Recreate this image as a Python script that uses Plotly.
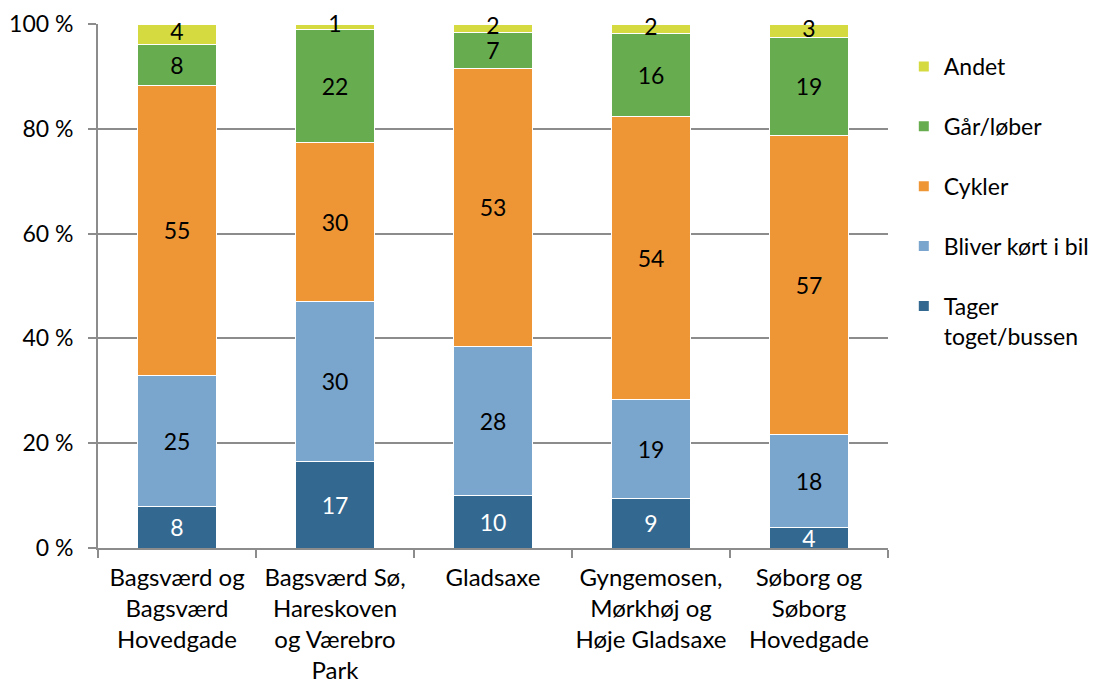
import plotly.graph_objects as go

categories = [
    "Bagsværd og<br>Bagsværd<br>Hovedgade",
    "Bagsværd Sø,<br>Hareskoven<br>og Værebro<br>Park",
    "Gladsaxe",
    "Gyngemosen,<br>Mørkhøj og<br>Høje Gladsaxe",
    "Søborg og<br>Søborg<br>Hovedgade",
]
tager = [8.0, 16.6, 10.1, 9.4, 4.0]
bliver = [25.0, 30.5, 28.3, 19.0, 17.6]
cykler = [55.2, 30.2, 53.2, 53.9, 57.2]
gaar = [7.8, 21.7, 6.7, 15.8, 18.6]
andet = [4.0, 1.0, 1.7, 1.9, 2.6]
yticks = [0, 20, 40, 60, 80, 100]

series = [
    ("Tager<br>toget/bussen", tager, "rgb(51,105,145)", "white"),
    ("Bliver kørt i bil", bliver, "rgb(122,166,206)", "black"),
    ("Cykler", cykler, "rgb(238,150,54)", "black"),
    ("Går/løber", gaar, "rgb(103,173,80)", "black"),
    ("Andet", andet, "rgb(212,218,64)", "black"),
]

FONT = "Lato"
FS = 23
fig = go.Figure()
for i, (name, vals, color, tcol) in enumerate(series):
    small = name == "Andet"
    fig.add_trace(go.Bar(
        x=categories, y=vals, name=name,
        marker=dict(color=color, line=dict(color="white", width=1)),
        text=None if small else [f"{v:.0f}" for v in vals],
        textposition="none" if small else "inside",
        insidetextanchor="middle", textangle=0,
        textfont=dict(color=tcol, size=FS, family=FONT),
        constraintext="none", cliponaxis=False,
        legendgroup=f"g{i}", legendrank=len(series) - i,
        hoverinfo="skip",
    ))

# labels for the thin "Andet" segments, centred on each segment
base = [t + b + c + g for t, b, c, g in zip(tager, bliver, cykler, gaar)]
fig.add_trace(go.Scatter(
    x=categories, y=[b + a / 2 for b, a in zip(base, andet)],
    mode="text", text=[f"{a:.0f}" for a in andet],
    textfont=dict(color="black", size=FS, family=FONT),
    textposition="middle center", showlegend=False, hoverinfo="skip",
    cliponaxis=False,
))

fig.update_layout(
    barmode="stack", bargap=0.5,
    width=1094, height=681,
    margin=dict(l=90, r=214, t=16, b=141, autoexpand=False),
    plot_bgcolor="white", paper_bgcolor="white",
    font=dict(family=FONT, size=FS, color="black"),
    uniformtext=dict(minsize=FS, mode="show"),
    legend=dict(
        x=1.02, y=0.96, xanchor="left", yanchor="top",
        traceorder="grouped", tracegroupgap=27, valign="top",
        font=dict(size=FS, family=FONT),
        itemsizing="constant",
    ),
    xaxis=dict(
        showline=True, linecolor="#8c8c8c", linewidth=2,
        ticks="outside", tickson="boundaries", ticklen=8, tickcolor="#8c8c8c", tickwidth=2,
        tickfont=dict(size=24, family=FONT), tickangle=0, automargin=False,
        ticklabelstandoff=7,
        range=[-0.5, 4.5],
    ),
    yaxis=dict(
        range=[0, 100], tickmode="array", tickvals=yticks,
        ticktext=[f"{v} %" for v in yticks],
        showline=True, linecolor="#8c8c8c", linewidth=2,
        showgrid=True, gridcolor="#8c8c8c", gridwidth=1.5,
        ticks="outside", ticklen=8, tickcolor="#8c8c8c", tickwidth=2,
        tickfont=dict(size=FS, family=FONT), automargin=False,
        ticklabelstandoff=10,
        zeroline=False,
    ),
)

fig.write_html("out.html")
